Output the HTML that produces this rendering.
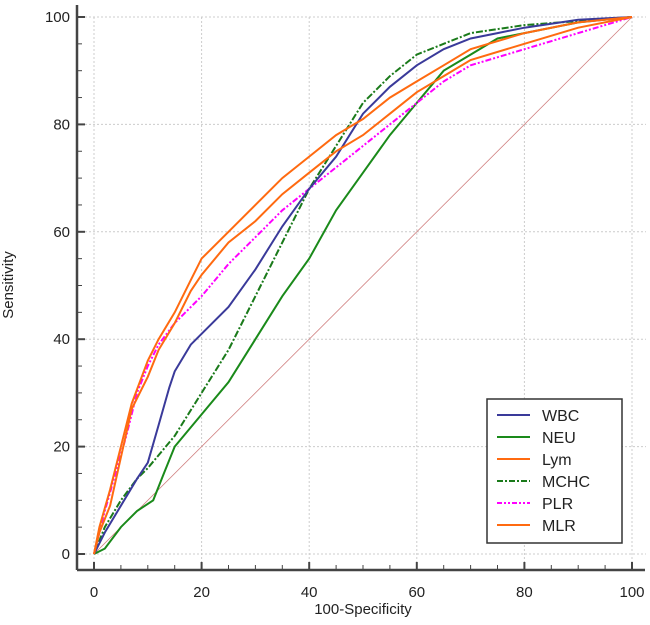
<!DOCTYPE html>
<html><head><meta charset="utf-8"><style>
body{margin:0;background:#fff;}
svg{display:block;font-family:"Liberation Sans",sans-serif;}
</style></head><body>
<svg id="chart" width="650" height="625" viewBox="0 0 650 625">
<g id="grid"></g>
<g id="axes"></g>
<g id="series"></g>
<g>
<rect x="487" y="399" width="135" height="144" fill="#fff" stroke="#333" stroke-width="1.5"/>
<g id="legend-items"></g>
</g>
<text x="363" y="614" font-size="15" text-anchor="middle" fill="#222">100-Specificity</text>
<text transform="translate(13,285) rotate(-90)" font-size="15" text-anchor="middle" fill="#222">Sensitivity</text>
</svg>
<script>
const ticks=[0,20,40,60,80,100];
const wbcX=[0,2,5,8,10,12,14,15,18,20,25,30,35,40,45,50,55,60,65,70,75,80,90,100];
const wbcY=[0,4,9,14,17,24,31,34,39,41,46,53,61,68,74,82,87,91,94,96,97,98,99.5,100];
const neuX=[0,2,5,8,11,13,15,20,25,30,35,40,45,50,55,60,65,70,75,80,90,100];
const neuY=[0,1,5,8,10,15,20,26,32,40,48,55,64,71,78,84,90,93,96,97,99,100];
const lymX=[0,1,3,5,7,10,12,15,18,20,25,30,35,40,45,50,55,60,65,70,80,90,100];
const lymY=[0,4,9,18,27,33,38,43,49,52,58,62,67,71,75,78,82,86,89,92,95,98,100];
const mchcX=[0,2,5,8,10,15,20,25,30,35,40,45,50,55,60,65,70,80,100];
const mchcY=[0,5,10,14,16,22,30,38,48,58,68,76,84,89,93,95,97,98.5,100];
const plrX=[0,2,4,6,8,10,12,15,20,25,30,35,40,45,50,55,60,65,70,80,90,100];
const plrY=[0,8,15,22,30,35,39,43,48,54,59,64,68,72,76,80,84,88,91,94,97,100];
const mlrX=[0,1,3,5,7,10,12,15,18,20,25,30,35,40,45,50,55,60,65,70,80,90,100];
const mlrY=[0,5,12,20,28,36,40,45,51,55,60,65,70,74,78,81,85,88,91,94,97,99,100];
const NS='http://www.w3.org/2000/svg';
const sx=v=>94+v*5.38, sy=v=>554-v*5.37;
function mk(t,a,p){const e=document.createElementNS(NS,t);for(const k in a)e.setAttribute(k,a[k]);p.appendChild(e);return e;}
const grid=document.getElementById('grid'),axes=document.getElementById('axes');
ticks.forEach(t=>{
 const g1=mk('line',{x1:sx(t),x2:sx(t),y1:sy(100),y2:570,stroke:'#ccc','stroke-dasharray':'2,2'},grid);
 
 const g2=mk('line',{x1:77,x2:sx(100)+14,y1:sy(t),y2:sy(t),stroke:'#ccc','stroke-dasharray':'2,2'},grid);
 
 const lx=mk('text',{x:sx(t),y:597,'font-size':15,'text-anchor':'middle',fill:'#222'},axes);lx.textContent=t;
 
 const ly=mk('text',{x:70,y:sy(t)+5,'font-size':15,'text-anchor':'end',fill:'#222'},axes);ly.textContent=t;
 
 mk('line',{x1:sx(t),x2:sx(t),y1:570,y2:562,stroke:'#444','stroke-width':2},axes);
 mk('line',{x1:77,x2:85,y1:sy(t),y2:sy(t),stroke:'#444','stroke-width':2},axes);
});
for(let t=5;t<100;t+=5){if(t%20){mk('line',{x1:sx(t),x2:sx(t),y1:570,y2:565,stroke:'#444'},axes);mk('line',{x1:77,x2:82,y1:sy(t),y2:sy(t),stroke:'#444'},axes);}}
const xa=mk('line',{x1:77,x2:645,y1:570,y2:570,stroke:'#444','stroke-width':2.5},axes);

const ya=mk('line',{x1:77,x2:77,y1:5,y2:570,stroke:'#444','stroke-width':2.5},axes);

const ser=document.getElementById('series');
const diag=mk('line',{x1:sx(0),y1:sy(0),x2:sx(100),y2:sy(100),stroke:'#d08080','stroke-width':0.8},ser);

const defs=[
 ['neu',neuX,neuY,'#1a8a1a',''],
 ['mchc',mchcX,mchcY,'#1a7a1a','7,2,2,2'],
 ['plr',plrX,plrY,'#ff00ff','6,2,2,2,2,2'],
 ['wbc',wbcX,wbcY,'#3a3a9a',''],
 ['lym',lymX,lymY,'#ff6a10',''],
 ['mlr',mlrX,mlrY,'#ff6a10','']];
defs.forEach(d=>{
 const pts=d[1].map((x,i)=>sx(x).toFixed(1)+','+sy(d[2][i]).toFixed(1)).join(' ');
 const p=mk('polyline',{points:pts,fill:'none',stroke:d[3],'stroke-width':2,'stroke-dasharray':d[4]},ser);
 
});
const leg=[['WBC','#3a3a9a',''],['NEU','#1a8a1a',''],['Lym','#ff6a10',''],['MCHC','#1a7a1a','6,2,2,2'],['PLR','#ff00ff','5,2,2,2,2,2'],['MLR','#ff6a10','']];
const li=document.getElementById('legend-items');
leg.forEach((l,i)=>{
 const y=415+i*22;
 const g=mk('g',{},li);
 
 mk('line',{x1:497,x2:530,y1:y,y2:y,stroke:l[1],'stroke-width':2,'stroke-dasharray':l[2]},g);
 const t=mk('text',{x:542,y:y+6,'font-size':16,fill:'#222'},g);t.textContent=l[0];
});
</script>
</body></html>
